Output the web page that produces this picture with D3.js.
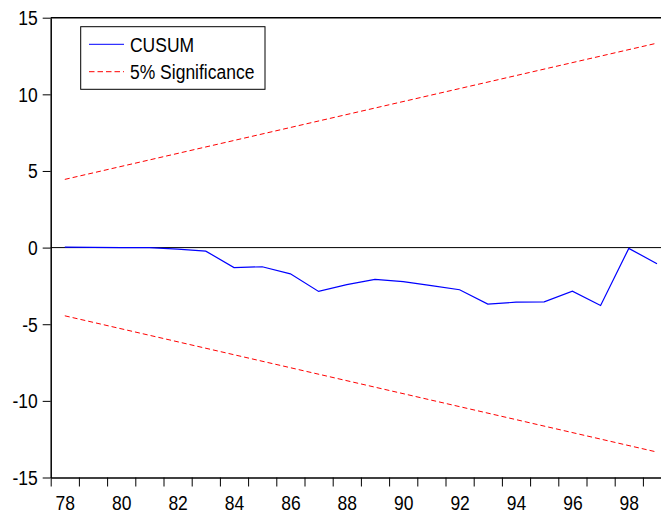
<!DOCTYPE html>
<html>
<head>
<meta charset="utf-8">
<script src="https://cdn.jsdelivr.net/npm/d3@7"></script>
<style>
  body { margin: 0; background: #fff; }
  svg text {
    font-family: "Liberation Sans", Arial, sans-serif;
    font-size: 17.5px;
    fill: #000;
    transform-box: fill-box;
    transform-origin: center;
    transform: scaleY(1.2);
  }
</style>
</head>
<body>
<div id="chart"></div>
<script>
// Width and height
var width  = 661;
var height = 516;

// data
var years = [1978, 1979, 1980, 1981, 1982, 1983, 1984, 1985, 1986, 1987, 1988,
             1989, 1990, 1991, 1992, 1993, 1994, 1995, 1996, 1997, 1998, 1999];
var cusum = [0.03, 0.01, 0.0, 0.0, -0.1, -0.23, -1.3, -1.25, -1.71, -2.86, -2.42,
             -2.08, -2.22, -2.48, -2.75, -3.69, -3.56, -3.54, -2.84, -3.78, -0.05, -1.05];
// 5% bands, straight lines from first to last year
var bandYears = [1978, 1999];
var upper = [4.45, 13.34];
var lower = [-4.45, -13.34];
var yTicks = [-15, -10, -5, 0, 5, 10, 15];
var xLabelYears = [1978, 1980, 1982, 1984, 1986, 1988, 1990, 1992, 1994, 1996, 1998];
var legendNames = ["CUSUM", "5% Significance"];

var x = d3.scaleLinear()
    .domain([1978, 2000])
    .range([50.7, 671.1]);
var y = d3.scaleLinear()
    .domain([-15, 15])
    .range([477.5, 17.7]);

var svg = d3.select("#chart")
    .append("svg")
    .attr("width", width)
    .attr("height", height);

// top border
svg.append("line")
    .attr("x1", x(1978)).attr("x2", x(2000))
    .attr("y1", y(15)).attr("y2", y(15))
    .style("stroke", "#000")
    .style("stroke-width", "1.5px");

// zero line
svg.append("line")
    .attr("x1", x(1978)).attr("x2", x(2000))
    .attr("y1", y(0)).attr("y2", y(0))
    .style("stroke", "#000")
    .style("stroke-width", "1px");

// y axis (plain hyphen for negatives, like the original)
var yAxis = svg.append("g")
    .attr("transform", "translate(" + x(1978) + ",0)")
    .call(d3.axisLeft(y).tickValues(yTicks).tickSize(8).tickSizeOuter(0).tickPadding(5)
        .tickFormat(function(d){ return String(d); }))
    .attr("font-family", null)
    .attr("font-size", null);
yAxis.select(".domain").style("stroke-width", "1.5px");

// x axis: year boundary ticks
var xAxis = svg.append("g")
    .attr("transform", "translate(0," + y(-15) + ")")
    .call(d3.axisBottom(x).tickValues(years).tickSize(9).tickSizeOuter(0).tickFormat(""))
    .attr("font-family", null)
    .attr("font-size", null);
xAxis.select(".domain").style("stroke-width", "1.5px");

// x labels centred in the year
var xLab = svg.append("g")
    .attr("transform", "translate(0," + y(-15) + ")")
    .call(d3.axisBottom(x)
        .tickValues(xLabelYears.map(function(d){ return d + 0.5; }))
        .tickSize(0)
        .tickFormat(function(d){ return d3.format("02d")(Math.floor(d) % 100); }))
    .attr("font-family", null)
    .attr("font-size", null);
xLab.select(".domain").remove();
xLab.selectAll("text")
    .attr("y", 25)
    .attr("dy", "0.35em");

var line = d3.line()
    .x(function(d){ return x(d[0] + 0.5); })
    .y(function(d){ return y(d[1]); });

// significance bands
[upper, lower].forEach(function(band){
    svg.append("path")
        .datum(bandYears.map(function(yr, i){ return [yr, band[i]]; }))
        .attr("d", line)
        .style("fill", "none")
        .style("stroke", "#ff0000")
        .style("stroke-width", "1px")
        .style("stroke-dasharray", "5,3");
});

// CUSUM
svg.append("path")
    .datum(years.map(function(yr, i){ return [yr, cusum[i]]; }))
    .attr("d", line)
    .style("fill", "none")
    .style("stroke", "#0000ff")
    .style("stroke-width", "1.2px");

// legend
var legend = svg.append("g");
legend.append("rect")
    .attr("x", 80.7).attr("y", 26.7)
    .attr("width", 184.3).attr("height", 62.6)
    .style("fill", "#fff")
    .style("stroke", "#000")
    .style("stroke-width", "1px");
var rows = legend.selectAll("g.row")
    .data(legendNames)
    .enter()
    .append("g")
    .attr("class", "row")
    .attr("transform", function(d, i){ return "translate(0," + (44.3 + i * 27.4) + ")"; });
rows.append("line")
    .attr("x1", 89).attr("x2", 124)
    .style("stroke", function(d, i){ return i == 0 ? "#0000ff" : "#ff0000"; })
    .style("stroke-width", "1px")
    .style("stroke-dasharray", function(d, i){ return i == 0 ? null : "5.5,3"; });
rows.append("text")
    .attr("x", 130)
    .attr("dy", "0.35em")
    .text(function(d){ return d; });
</script>
</body>
</html>
